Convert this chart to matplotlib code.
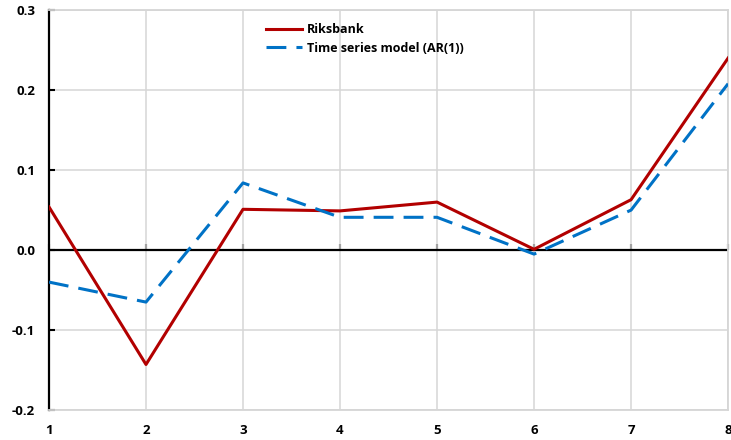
import matplotlib
matplotlib.use("Agg")
import matplotlib.pyplot as plt

quarters = [1, 2, 3, 4, 5, 6, 7, 8]
riksbank = [0.054, -0.143, 0.051, 0.049, 0.060, 0.001, 0.063, 0.240]
ar1 = [-0.040, -0.065, 0.084, 0.041, 0.041, -0.005, 0.050, 0.208]
yticks = [-0.2, -0.1, 0.0, 0.1, 0.2, 0.3]
ytick_labels = ["-0.2", "-0.1", "0.0", "0.1", "0.2", "0.3"]

plt.rcParams['font.family'] = ['Open Sans', 'DejaVu Sans']
plt.rcParams['font.weight'] = 'bold'

fig = plt.figure(figsize=(7.31, 4.40), dpi=100)
ax = fig.add_axes([0.067, 0.068, 0.929, 0.909])

grid_c = '#d6d6d6'
ax.set_xlim(1, 8)
ax.set_ylim(-0.2, 0.3)
ax.set_xticks(quarters)
ax.set_xticklabels([str(q) for q in quarters], fontsize=9.5, fontweight='bold')
ax.set_yticks(yticks)
ax.set_yticklabels(ytick_labels, fontsize=9.5, fontweight='bold')
ax.grid(True, color=grid_c, lw=1.1, zorder=0)
ax.set_axisbelow(True)

for s in ['top', 'right', 'bottom']:
    ax.spines[s].set_color(grid_c)
    ax.spines[s].set_linewidth(1.3)
ax.spines['left'].set_color('black')
ax.spines['left'].set_linewidth(1.6)
ax.tick_params(axis='y', direction='in', length=4, width=1.5, color='black', pad=10)
ax.tick_params(axis='x', length=0, pad=10)

ax.axhline(0, color='black', lw=1.6, zorder=2)
sec = ax.secondary_xaxis(0.4)
sec.set_xticks(quarters)
sec.set_xticklabels([])
sec.spines['bottom'].set_visible(False)
sec.tick_params(direction='in', length=4, width=1.5, color='black')

ax.plot(quarters, riksbank, color='#b20000', lw=2.2, label='Riksbank', zorder=3)
ax.plot(quarters, ar1, color='#0072c6', lw=2.2, dashes=(6.5, 3.3),
        label='Time series model (AR(1))', zorder=3)

leg = ax.legend(loc='upper left', bbox_to_anchor=(266 / 731, 1 - 23 / 440),
                bbox_transform=fig.transFigure, frameon=False, fontsize=9,
                handlelength=2.9, handletextpad=0.35, labelspacing=0.45,
                borderpad=0, borderaxespad=0)
for t in leg.get_texts():
    t.set_fontweight('bold')

fig.savefig('out.png', dpi=100)
